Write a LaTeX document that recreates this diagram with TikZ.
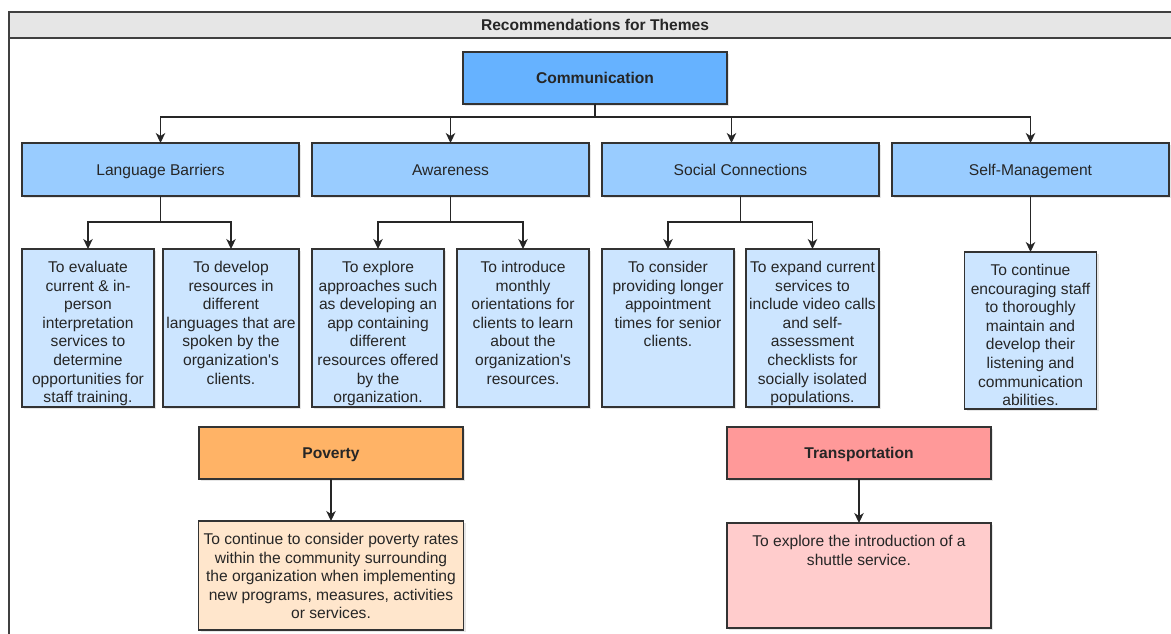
\documentclass[tikz,border=0pt]{standalone}
\usepackage{fontspec}
\setmainfont{Liberation Sans}
\setsansfont{Liberation Sans}
\usepackage{xcolor}
\usepackage{tikz}
\usetikzlibrary{arrows.meta, positioning, shadows}

\definecolor{titlegray}{HTML}{E6E6E6}
\definecolor{commblue}{HTML}{66B2FF}
\definecolor{catblue}{HTML}{99CCFF}
\definecolor{leafblue}{HTML}{CCE5FF}
\definecolor{povorange}{HTML}{FFB366}
\definecolor{povlight}{HTML}{FFE6CC}
\definecolor{transred}{HTML}{FF9999}
\definecolor{translight}{HTML}{FFCCCC}

% text box with the text held at its top
\newcommand{\toptext}[3]{\parbox[c][#2][t]{#1}{\centering\rule{0pt}{23.5pt}#3}}

\begin{document}
\begin{tikzpicture}[
  x=1pt, y=-1pt,
  font=\sffamily\fontsize{15.6}{18.6}\selectfont,
  every node/.style={align=center, text=black!85},
  box/.style={draw=black!80, line width=1.2pt, inner sep=0pt, outer sep=0pt,
    drop shadow={shadow xshift=2pt, shadow yshift=-2pt, opacity=0.2}},
  oneline/.style={text height=12pt, text depth=1pt},
  head/.style={box, oneline, minimum width=264, minimum height=52},
  cat/.style={box, oneline, fill=catblue, minimum width=277, minimum height=53},
  leaf/.style={box, fill=leafblue},
  arr/.style={-{Stealth[length=10pt, width=9.5pt, inset=3pt]}, line width=1.2pt, draw=black!85},
]
\useasboundingbox (0,0) rectangle (1171,634);

% frame with title bar
\fill[titlegray] (9,12) rectangle (1190,38);
\draw[black!75, line width=1.3pt] (9,650) -- (9,12) -- (1190,12);
\draw[black!75, line width=1.3pt] (9,38) -- (1190,38);
\node[oneline] (title) at (595,25) {\textbf{Recommendations for Themes}};

\node[head, fill=commblue] (comm) at (595,78) {\textbf{Communication}};

\node[cat, anchor=north west] (lang) at (22,143) {Language Barriers};
\node[cat, right=13pt of lang] (aware) {Awareness};
\node[cat, right=13pt of aware] (social) {Social Connections};
\node[cat, right=13pt of social] (self) {Self-Management};

\draw[arr] (comm.south) -- ++(0,13) -| (lang.north);
\draw[arr] (comm.south) -- ++(0,13) -| (aware.north);
\draw[arr] (comm.south) -- ++(0,13) -| ([xshift=-9pt]social.north);
\draw[arr] (comm.south) -- ++(0,13) -| (self.north);

\node[leaf, below=53pt of lang.south west, anchor=north west] (evaluate)
  {\toptext{132pt}{158pt}{To evaluate\\ current \& in-\\ person\\ interpretation\\ services to\\ determine\\ opportunities for\\ staff training.}};
\node[leaf, below=53pt of lang.south east, anchor=north east] (develop)
  {\toptext{136pt}{158pt}{To develop\\ resources in\\ different\\ languages that are\\ spoken by the\\ organization\textquotesingle s\\ clients.}};
\node[leaf, below=53pt of aware.south west, anchor=north west] (explore)
  {\toptext{132pt}{158pt}{To explore\\ approaches such\\ as developing an\\ app containing\\ different\\ resources offered\\ by the\\ organization.}};
\node[leaf, below=53pt of aware.south east, anchor=north east] (introduce)
  {\toptext{132pt}{158pt}{To introduce\\ monthly\\ orientations for\\ clients to learn\\ about the\\ organization\textquotesingle s\\ resources.}};
\node[leaf, below=53pt of social.south west, anchor=north west] (consider)
  {\toptext{132pt}{158pt}{To consider\\ providing longer\\ appointment\\ times for senior\\ clients.}};
\node[leaf, below=53pt of social.south east, anchor=north east] (expand)
  {\toptext{133pt}{158pt}{To expand current\\ services to\\ include video calls\\ and self-\\ assessment\\ checklists for\\ socially isolated\\ populations.}};
\node[leaf, below=56pt of self] (listen)
  {\toptext{132pt}{157pt}{To continue\\ encouraging staff\\ to thoroughly\\ maintain and\\ develop their\\ listening and\\ communication\\ abilities.}};

\draw[arr] (lang.south) -- ++(0,26) -| (evaluate.north);
\draw[arr] (lang.south) -- ++(0,26) -| (develop.north);
\draw[arr] (aware.south) -- ++(0,26) -| (explore.north);
\draw[arr] (aware.south) -- ++(0,26) -| (introduce.north);
\draw[arr] (social.south) -- ++(0,26) -| (consider.north);
\draw[arr] (social.south) -- ++(0,26) -| (expand.north);
\draw[arr] (self) -- (listen);

\node[head, fill=povorange] (poverty) at (331,453) {\textbf{Poverty}};
\node[box, fill=povlight, below=42pt of poverty] (povleaf)
  {\toptext{265pt}{109pt}{To continue to consider poverty rates\\ within the community surrounding\\ the organization when implementing\\ new programs, measures, activities\\ or services.}};
\draw[arr] (poverty) -- (povleaf);

\node[head, fill=transred] (transport) at (859,453) {\textbf{Transportation}};
\node[box, fill=translight, below=44pt of transport] (shuttle)
  {\toptext{264pt}{105pt}{To explore the introduction of a\\ shuttle service.}};
\draw[arr] (transport) -- (shuttle);

\end{tikzpicture}
\end{document}
